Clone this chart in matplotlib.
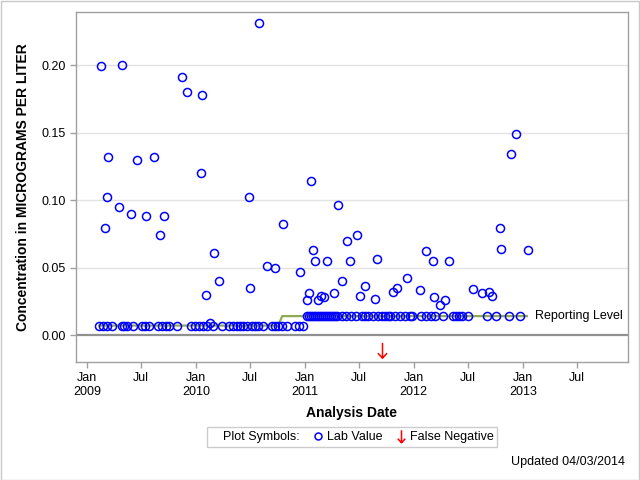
import numpy as np
import pandas as pd
import matplotlib
matplotlib.use('Agg')
import matplotlib.pyplot as plt
import matplotlib.dates as mdates
from matplotlib.lines import Line2D
from matplotlib.patches import Rectangle
from matplotlib.path import Path

plt.rcParams['font.family'] = ['Liberation Sans', 'DejaVu Sans']

# lab results above the reporting level
lab_dates = ['2009-02-17', '2009-03-03', '2009-03-10', '2009-03-13', '2009-04-19', '2009-04-29',
             '2009-05-29', '2009-06-17', '2009-07-16', '2009-08-14', '2009-09-02', '2009-09-17',
             '2009-11-14', '2009-12-03', '2010-01-19', '2010-01-22', '2010-02-04', '2010-02-17',
             '2010-03-03', '2010-03-20', '2010-06-27', '2010-07-02', '2010-08-01', '2010-08-28',
             '2010-09-24', '2010-10-21', '2010-12-17', '2011-01-09', '2011-01-16', '2011-01-22',
             '2011-01-28', '2011-02-05', '2011-02-15', '2011-02-25', '2011-03-07', '2011-03-17',
             '2011-04-09', '2011-04-21', '2011-05-06', '2011-05-23', '2011-06-02', '2011-06-25',
             '2011-07-05', '2011-07-22', '2011-08-25', '2011-09-01', '2011-10-24', '2011-11-06',
             '2011-12-09', '2012-01-22', '2012-02-12', '2012-03-06', '2012-03-09', '2012-03-29',
             '2012-04-15', '2012-04-28', '2012-07-17', '2012-08-16', '2012-09-09', '2012-09-19',
             '2012-10-15', '2012-10-19', '2012-11-22', '2012-12-09', '2013-01-18']
lab_values = [0.199, 0.079, 0.102, 0.132, 0.095, 0.200,
              0.090, 0.130, 0.088, 0.132, 0.074, 0.088,
              0.191, 0.180, 0.120, 0.178, 0.030, 0.009,
              0.061, 0.040, 0.102, 0.035, 0.231, 0.051,
              0.050, 0.082, 0.047, 0.026, 0.031, 0.114,
              0.063, 0.055, 0.026, 0.029, 0.028, 0.055,
              0.031, 0.096, 0.040, 0.070, 0.055, 0.074,
              0.029, 0.036, 0.027, 0.056, 0.032, 0.035,
              0.042, 0.033, 0.062, 0.055, 0.028, 0.022,
              0.026, 0.055, 0.034, 0.031, 0.032, 0.029,
              0.079, 0.064, 0.134, 0.149, 0.063]

# results reported at 0.007 (2009-2010)
low_dates = ['2009-02-11', '2009-02-24', '2009-03-10', '2009-03-25', '2009-04-27', '2009-05-06',
             '2009-05-14', '2009-06-05', '2009-07-03', '2009-07-14', '2009-07-27', '2009-08-28',
             '2009-09-08', '2009-09-21', '2009-10-02', '2009-10-28', '2009-12-14', '2009-12-29',
             '2010-01-11', '2010-01-25', '2010-02-06', '2010-02-28', '2010-03-28', '2010-04-23',
             '2010-05-06', '2010-05-17', '2010-05-28', '2010-06-08', '2010-06-20', '2010-07-07',
             '2010-07-18', '2010-07-29', '2010-08-13', '2010-09-12', '2010-09-23', '2010-10-04',
             '2010-10-17', '2010-11-01', '2010-11-29', '2010-12-13', '2010-12-25']
low_values = [0.007, 0.007, 0.007, 0.007, 0.007, 0.007,
              0.007, 0.007, 0.007, 0.007, 0.007, 0.007,
              0.007, 0.007, 0.007, 0.007, 0.007, 0.007,
              0.007, 0.007, 0.007, 0.007, 0.007, 0.007,
              0.007, 0.007, 0.007, 0.007, 0.007, 0.007,
              0.007, 0.007, 0.007, 0.007, 0.007, 0.007,
              0.007, 0.007, 0.007, 0.007, 0.007]

# results reported at 0.014 (2011-2012)
high_dates = ['2011-01-08', '2011-01-14', '2011-01-21', '2011-01-28', '2011-02-04', '2011-02-10',
              '2011-02-17', '2011-02-24', '2011-03-03', '2011-03-10', '2011-03-16', '2011-03-23',
              '2011-03-30', '2011-04-05', '2011-04-12', '2011-04-19', '2011-05-04', '2011-05-20',
              '2011-06-06', '2011-06-23', '2011-07-10', '2011-07-21', '2011-07-31', '2011-08-17',
              '2011-09-02', '2011-09-15', '2011-09-26', '2011-10-05', '2011-10-12', '2011-10-29',
              '2011-11-15', '2011-12-02', '2011-12-19', '2011-12-25', '2012-01-26', '2012-02-12',
              '2012-02-29', '2012-03-11', '2012-04-08', '2012-05-10', '2012-05-21', '2012-06-01',
              '2012-06-12', '2012-07-01', '2012-09-01', '2012-10-02', '2012-11-15', '2012-12-21']
high_values = [0.014, 0.014, 0.014, 0.014, 0.014, 0.014,
               0.014, 0.014, 0.014, 0.014, 0.014, 0.014,
               0.014, 0.014, 0.014, 0.014, 0.014, 0.014,
               0.014, 0.014, 0.014, 0.014, 0.014, 0.014,
               0.014, 0.014, 0.014, 0.014, 0.014, 0.014,
               0.014, 0.014, 0.014, 0.014, 0.014, 0.014,
               0.014, 0.014, 0.014, 0.014, 0.014, 0.014,
               0.014, 0.014, 0.014, 0.014, 0.014, 0.014]

# reporting level
rl_dates = ['2009-02-11', '2010-10-04', '2010-10-17', '2013-01-14']
rl_values = [0.007, 0.007, 0.014, 0.014]

# false negatives (drawn in the band below zero)
fn_dates = ['2011-09-17']
fn_values = [-0.011]

blue = '#0000FF'
green = '#8FAA52'
frame = '#A0A0A0'

# thin down arrow marker
arrow = Path([(0, 1), (0, -1), (-0.6, -0.35), (0, -1), (0.6, -0.35)],
             [Path.MOVETO, Path.LINETO, Path.MOVETO, Path.LINETO, Path.LINETO])

fig = plt.figure(figsize=(6.4, 4.8), dpi=100)
ax = fig.add_axes([76 / 640, 1 - 362 / 480, 552 / 640, 350 / 480])

ax.plot(pd.to_datetime(rl_dates), rl_values, color=green, lw=1.6, zorder=2)
ax.annotate('Reporting Level', xy=(pd.to_datetime(rl_dates[-1]), rl_values[-1]),
            xytext=(6, 0), textcoords='offset points', va='center', ha='left', fontsize=9)

mk = dict(linestyle='none', marker='o', markersize=5.8, markerfacecolor='none',
          markeredgecolor=blue, markeredgewidth=1.1, zorder=3)
ax.plot(pd.to_datetime(low_dates), low_values, **mk)
ax.plot(pd.to_datetime(high_dates), high_values, **mk)
ax.plot(pd.to_datetime(lab_dates), lab_values, **mk)

ax.plot(pd.to_datetime(fn_dates), fn_values, linestyle='none', marker=arrow,
        markersize=11, markerfacecolor='none', markeredgecolor='red', markeredgewidth=1.1, zorder=3)

ax.axhline(0, color='#909090', lw=1.6, zorder=1)
for yv in [0.05, 0.10, 0.15, 0.20]:
    ax.axhline(yv, color='#E3E3E3', lw=1, zorder=0)

ax.set_ylim(-0.02, 0.2393)
ax.set_xlim(pd.Timestamp('2008-11-25'), pd.Timestamp('2013-12-19'))
ax.set_yticks([0, 0.05, 0.10, 0.15, 0.20])
ax.yaxis.set_major_formatter(plt.FuncFormatter(lambda v, p: f'{v:.2f}'))

ax.xaxis.set_major_locator(mdates.MonthLocator(bymonth=[1, 7]))


def fmt_date(x, pos):
    d = mdates.num2date(x)
    if d.month == 1:
        return 'Jan\n%d' % d.year
    return 'Jul'


ax.xaxis.set_major_formatter(plt.FuncFormatter(fmt_date))
ax.tick_params(axis='both', colors=frame, labelcolor='black', length=4, width=1, labelsize=9)
ax.tick_params(axis='x', pad=3)
for s in ax.spines.values():
    s.set_color(frame)
    s.set_linewidth(1)

ax.set_xlabel('Analysis Date', fontsize=10, fontweight='bold', labelpad=6)
ax.set_ylabel('Concentration in MICROGRAMS PER LITER', fontsize=10, fontweight='bold', labelpad=8)

# legend box
handles = [Line2D([], [], linestyle='none'),
           Line2D([], [], linestyle='none', marker='o', markersize=5, markerfacecolor='none',
                  markeredgecolor=blue, markeredgewidth=1.1),
           Line2D([], [], linestyle='none', marker=arrow, markersize=9, markerfacecolor='none',
                  markeredgecolor='red', markeredgewidth=1.1)]
leg = fig.legend(handles, ['Plot Symbols:', 'Lab Value', 'False Negative'], ncol=3,
                 loc='center', bbox_to_anchor=(352 / 640, 1 - 437 / 480), fontsize=9,
                 frameon=True, fancybox=False, edgecolor='#C0C0C0', handlelength=0.6,
                 handletextpad=0.4, columnspacing=1.2, borderpad=0.3)
leg.get_frame().set_linewidth(1)

fig.text(625 / 640, 1 - 462 / 480, 'Updated 04/03/2014', ha='right', va='center', fontsize=9)

fig.patches.append(Rectangle((0.001, 0.001), 0.998, 0.997, transform=fig.transFigure,
                             fill=False, edgecolor='#C8C8C8', lw=1))

fig.savefig('out.png', dpi=100)
